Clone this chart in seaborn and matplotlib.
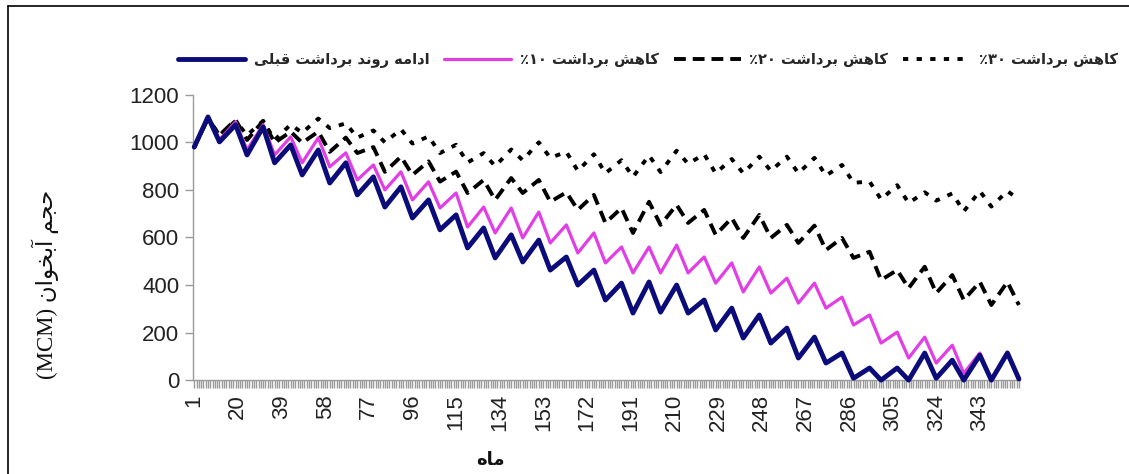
import matplotlib
matplotlib.use("Agg")
import matplotlib.pyplot as plt
import seaborn as sns
from matplotlib.ticker import MultipleLocator
from matplotlib.lines import Line2D
from matplotlib.font_manager import FontProperties, findfont
from matplotlib.ft2font import FT2Font

# month of each seasonal turning point (start, then peak / trough of every year)
turn_months = [1, 7, 12, 19, 24, 31, 36, 43, 48, 55, 60, 67, 72, 79, 84, 91, 96,
               103, 108, 115, 120, 127, 132, 139, 144, 151, 156, 163, 168, 175, 180,
               187, 192, 199, 204, 211, 216, 223, 228, 235, 240, 247, 252, 259, 264,
               271, 276, 283, 288, 295, 300, 307, 312, 319, 324, 331, 336, 343, 348,
               355, 360]

# aquifer volume (MCM) at those months
base_trend = [980, 1107, 1002, 1074, 947, 1065, 914, 989, 863, 968, 829, 914, 779,
              855, 728, 813, 682, 758, 632, 695, 556, 640, 514, 611, 497, 589, 463,
              518, 400, 463, 337, 408, 282, 413, 286, 400, 282, 337, 211, 303, 177,
              274, 156, 219, 93, 181, 72, 114, 8, 51, 0, 51, 0, 114, 8, 84, 0, 105,
              0, 114, 5]
cut_10 = [980, 1107, 1011, 1086, 968, 1074, 947, 1023, 914, 1019, 897, 956, 842,
          905, 800, 876, 758, 834, 724, 787, 644, 728, 619, 724, 598, 707, 577, 653,
          535, 619, 493, 560, 451, 560, 451, 568, 451, 518, 408, 493, 371, 476, 366,
          429, 324, 408, 303, 349, 232, 274, 156, 202, 93, 181, 72, 147, 29, 114, 0,
          118, 8]
cut_20 = [980, 1100, 1030, 1095, 1010, 1090, 998, 1045, 998, 1045, 960, 1020, 955,
          980, 876, 940, 863, 920, 835, 877, 787, 842, 758, 850, 787, 842, 750, 790,
          716, 779, 661, 724, 619, 750, 653, 737, 661, 716, 611, 682, 598, 695, 598,
          653, 577, 650, 547, 598, 514, 540, 421, 463, 387, 477, 366, 442, 337, 413,
          316, 413, 316]
cut_30 = [980, 1100, 1030, 1090, 1030, 1090, 1010, 1075, 1040, 1100, 1060, 1080,
          1020, 1050, 1000, 1055, 995, 1025, 955, 990, 915, 955, 900, 970, 925, 1000,
          935, 960, 880, 950, 870, 925, 855, 945, 875, 965, 910, 950, 870, 930, 870,
          940, 880, 940, 870, 935, 860, 905, 830, 835, 760, 820, 745, 790, 755, 785,
          710, 795, 730, 795, 760]

x_ticks = [1, 20, 39, 58, 77, 96, 115, 134, 153, 172, 191, 210, 229, 248, 267, 286,
           305, 324, 343]
y_ticks = [0, 200, 400, 600, 800, 1000, 1200]

labels = ["ادامه روند برداشت قبلی", "کاهش برداشت ۱۰٪", "کاهش برداشت ۲۰٪", "کاهش برداشت ۳۰٪"]
y_label = "حجم آبخوان (MCM)"
x_label = "ماه"

# --- Persian shaping (matplotlib draws no joined forms, no RTL) ---
cmap = set(FT2Font(findfont(FontProperties(family="DejaVu Sans"))).get_charmap().keys())

JOIN = {
    "\u0627": ("\uFE8D", "\uFE8E"), "\u0622": ("\uFE81", "\uFE82"),
    "\u062F": ("\uFEA9", "\uFEAA"), "\u0631": ("\uFEAD", "\uFEAE"),
    "\u0648": ("\uFEED", "\uFEEE"),
    "\u0628": ("\uFE8F", "\uFE90", "\uFE91", "\uFE92"),
    "\u062A": ("\uFE95", "\uFE96", "\uFE97", "\uFE98"),
    "\u062C": ("\uFE9D", "\uFE9E", "\uFE9F", "\uFEA0"),
    "\u062D": ("\uFEA1", "\uFEA2", "\uFEA3", "\uFEA4"),
    "\u062E": ("\uFEA5", "\uFEA6", "\uFEA7", "\uFEA8"),
    "\u0634": ("\uFEB5", "\uFEB6", "\uFEB7", "\uFEB8"),
    "\u0642": ("\uFED5", "\uFED6", "\uFED7", "\uFED8"),
    "\u0644": ("\uFEDD", "\uFEDE", "\uFEDF", "\uFEE0"),
    "\u0645": ("\uFEE1", "\uFEE2", "\uFEE3", "\uFEE4"),
    "\u0646": ("\uFEE5", "\uFEE6", "\uFEE7", "\uFEE8"),
    "\u0647": ("\uFEE9", "\uFEEA", "\uFEEB", "\uFEEC"),
    "\u06A9": ("\uFB8E", "\uFB8F", "\uFB90", "\uFB91"),
    "\u06CC": ("\uFBFC", "\uFBFD", "\uFBFE", "\uFBFF"),
}
ALT = {"\u06A9": ("\uFED9", "\uFEDA", "\uFEDB", "\uFEDC"),
       "\u06CC": ("\uFEEF", "\uFEF0", "\uFEF3", "\uFEF4")}
for k, alt in ALT.items():
    if not all(ord(c) in cmap for c in JOIN[k]):
        JOIN[k] = alt


def shape(text):
    out = []
    for i, ch in enumerate(text):
        if ch not in JOIN:
            out.append(ch)
            continue
        forms = JOIN[ch]
        prev = text[i - 1] if i > 0 else ""
        nxt = text[i + 1] if i + 1 < len(text) else ""
        jp = prev in JOIN and len(JOIN[prev]) == 4
        jn = len(forms) == 4 and nxt in JOIN
        out.append(forms[3] if jp and jn else forms[1] if jp else forms[2] if jn else forms[0])
    return "".join(out)


def visual(text):
    runs = []
    for ch in shape(text):
        ltr = (ch.isascii() and ch.isalnum()) or "\u06F0" <= ch <= "\u06F9"
        if runs and runs[-1][0] == ltr:
            runs[-1][1].append(ch)
        else:
            runs.append((ltr, [ch]))
    mirror = {"(": ")", ")": "("}
    out = []
    for ltr, chars in reversed(runs):
        out.extend(chars if ltr else [mirror.get(c, c) for c in reversed(chars)])
    return "".join(out)


sns.set_theme(style="white")
plt.rcParams["font.family"] = ["Liberation Sans", "DejaVu Sans"]
plt.rcParams["lines.scale_dashes"] = False

fig = plt.figure(figsize=(11.29, 4.74), dpi=100)
ax = fig.add_axes([0.171, 0.198, 0.7325, 0.602])

styles = [
    (base_trend, "#0b0b7a", 3.5, None),
    (cut_10, "#e23ee6", 2.3, None),
    (cut_20, "black", 2.8, (8.5, 5.0)),
    (cut_30, "black", 2.8, (3.8, 6.0)),
]
handles = []
for vals, col, lw, dash in styles:
    sns.lineplot(x=turn_months, y=vals, ax=ax, color=col, linewidth=lw)
    ln = ax.get_lines()[-1]
    ln.set_clip_on(False)
    ln.set_solid_capstyle("round")
    ln.set_solid_joinstyle("round")
    if dash:
        ln.set_dashes(dash)
        ln.set_dash_capstyle("butt")
    handles.append(ln)
# dark blue on top like the reference
handles[0].set_zorder(5)
handles[1].set_zorder(4)

ax.set_xlim(0.5, 360.5)
ax.set_ylim(0, 1200)
ax.set_xticks(x_ticks)
ax.set_xticklabels([str(t) for t in x_ticks], rotation=90)
ax.xaxis.set_minor_locator(MultipleLocator(1))
ax.set_yticks(y_ticks)
ax.set_yticklabels([str(t) for t in y_ticks])
ax.tick_params(axis="x", which="both", direction="out", length=6, width=1,
               color="#9a9a9a", bottom=True, labelsize=16, labelcolor="#222222", pad=4)
ax.tick_params(axis="y", direction="out", length=6, width=1, color="#9a9a9a",
               left=True, labelsize=16, labelcolor="#222222", pad=4)
for side in ["top", "right"]:
    ax.spines[side].set_visible(False)
for side in ["left", "bottom"]:
    ax.spines[side].set_color("#9a9a9a")
    ax.spines[side].set_linewidth(1)
ax.set_xlabel("")
ax.set_ylabel("")

fig.text(0.040, 0.400, visual(y_label), rotation=90, ha="center", va="center",
         fontsize=16.5, family=["Liberation Serif", "DejaVu Sans"], color="#111111")
fig.text(0.434, 0.030, visual(x_label), ha="center", va="center", fontsize=13,
         family="DejaVu Sans", weight="bold", color="#111111")

fig.legend(handles, [visual(l) for l in labels], loc="center",
           bbox_to_anchor=(0.574, 0.873), ncol=4, frameon=False,
           prop=FontProperties(family="DejaVu Sans", weight="bold", size=10.5),
           handlelength=4.6, columnspacing=1.0, handletextpad=0.6)

# frame around the picture (top and left edges)
fig.add_artist(Line2D([8 / 1129, 8 / 1129], [0, 1 - 6 / 474], color="black", lw=1.2))
fig.add_artist(Line2D([8 / 1129, 1], [1 - 6 / 474, 1 - 6 / 474], color="black", lw=1.2))

fig.savefig("out.png", dpi=100)
